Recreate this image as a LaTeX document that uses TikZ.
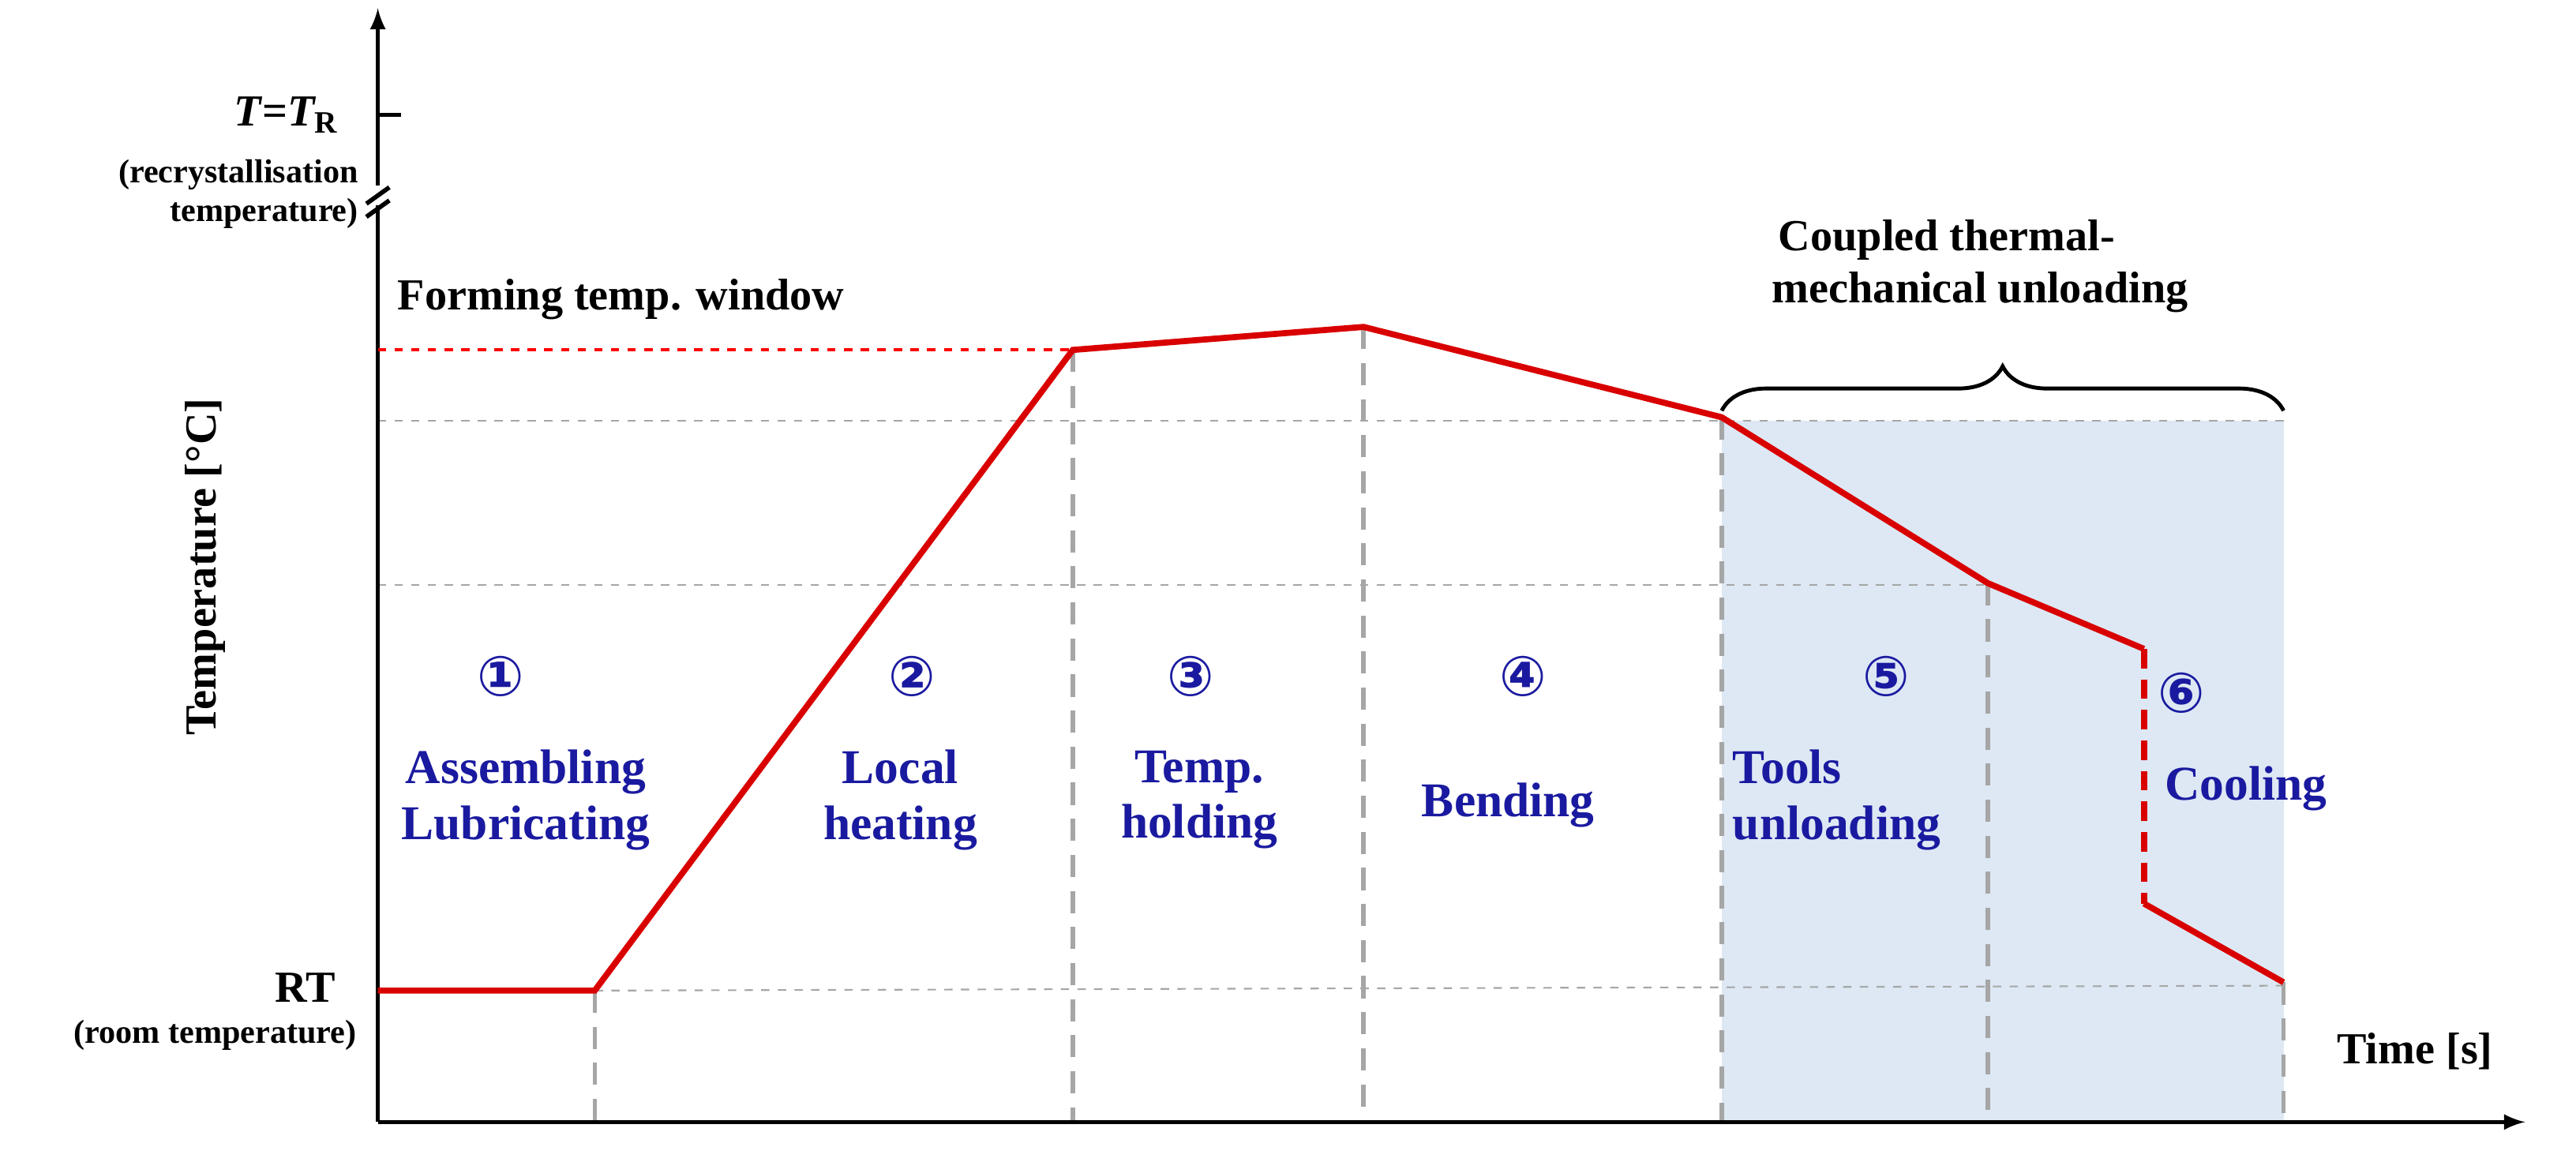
\documentclass[tikz,border=0pt]{standalone}
\usepackage{fontspec}
\setmainfont{Liberation Serif}
\newfontfamily\symfont{DejaVu Sans}
\usetikzlibrary{positioning,decorations.pathreplacing}
\definecolor{stepblue}{HTML}{1A1AA0}
\definecolor{zoneblue}{HTML}{DDE8F4}
\begin{document}
\begin{tikzpicture}[x=0.02081cm,y=-0.02081cm,
    curve/.style={red!85!black, line width=2.2pt},
    guide/.style={gray!70, dashed, line width=0.6pt},
    stage/.style={gray!70, dashed, line width=1.6pt, dash pattern=on 8pt off 5pt},
    lbl/.style={font=\bfseries\fontsize{16}{19}\selectfont, align=center},
    phase/.style={lbl, text=stepblue, font=\bfseries\fontsize{17.5}{20}\selectfont},
    num/.style={text=stepblue, font=\symfont\bfseries\fontsize{20}{22}\selectfont},
    small/.style={font=\bfseries\fontsize{12}{14}\selectfont, align=right}
]
\useasboundingbox (0,0) rectangle (1568,707);

% Shaded unloading zone
\fill[zoneblue] (1048,256) rectangle (1390,683);

% Curve corners
\coordinate (p0) at (230,603);
\coordinate (p1) at (362,603);
\coordinate (p2) at (653,213);
\coordinate (p3) at (830,199);
\coordinate (p4) at (1048,254);
\coordinate (p5) at (1210,355);
\coordinate (p6) at (1305,395);
\coordinate (p7) at (1305,550);
\coordinate (p8) at (1390,598);
\coordinate (ya) at (230,213);

% Guides
\draw[guide] (230,256) -- (1390,256);
\draw[guide] (230,356) -- (1210,356);
\draw[guide] (p1) -- (1390,600);
\foreach \p in {p1,p2,p3,p4,p5,p8}
  \draw[stage] (\p) -- (\p |- 0,683);

% Axes
\draw[line width=1.6pt,-latex] (230,683) -- (1537,683);
\draw[line width=1.6pt] (230,683) -- (230,125);
\draw[line width=1.6pt,-latex] (230,113) -- (230,5);
\draw[line width=1.6pt] (223,124) -- (237,114);
\draw[line width=1.6pt] (223,132) -- (237,122);
\draw[line width=1.6pt] (230,70) -- (244,70);

% Temperature path
\draw[red, dashed, line width=1.2pt] (ya) -- (p2);
\draw[curve] (p0) -- (p1) -- (p2) -- (p3) -- (p4) -- (p5) -- (p6);
\draw[curve, dash pattern=on 7pt off 4pt] (p6) -- (p7);
\draw[curve] (p7) -- (p8);

% Brace
\draw[decorate, decoration={brace, amplitude=16pt}, line width=1.4pt]
  (1048,250) -- (1390,250);

% Axis labels
\node[lbl, rotate=90] (ylabel) at (125,345) {Temperature [\textdegree C]};
\node[lbl] (xlabel) at (1470,640) {Time [s]};
\node[lbl, anchor=east, font=\bfseries\itshape\fontsize{16}{19}\selectfont] (tr) at (212,70) {T\textup{=}T\textsubscript{\textup{R}}};
\node[small, anchor=east] (trnote) at (224,118) {(recrystallisation\\temperature)};
\node[lbl, anchor=east] (rt) at (210,601) {RT};
\node[small, anchor=east] (rtnote) at (223,630) {(room temperature)};
\node[lbl] (window) at (378,182) {Forming temp. window};
\node[lbl] (coupled) at (1185,162) {Coupled thermal-\\\hspace*{1.5em}mechanical unloading};

% Stages
\node[num] (n1) at (305,412) {①};
\node[num] (n2) at (555,412) {②};
\node[num] (n3) at (725,412) {③};
\node[num] (n4) at (927,412) {④};
\node[num] (n5) at (1148,412) {⑤};
\node[num] (n6) at (1328,422) {⑥};
\node[phase] (s1) at (320,487) {Assembling\\Lubricating};
\node[phase] (s2) at (548,487) {Local\\heating};
\node[phase] (s3) at (730,487) {Temp.\\holding};
\node[phase] (s4) at (918,490) {Bending};
\node[phase, align=left] (s5) at (1118,487) {Tools\\unloading};
\node[phase] (s6) at (1367,480) {Cooling};
\end{tikzpicture}
\end{document}
